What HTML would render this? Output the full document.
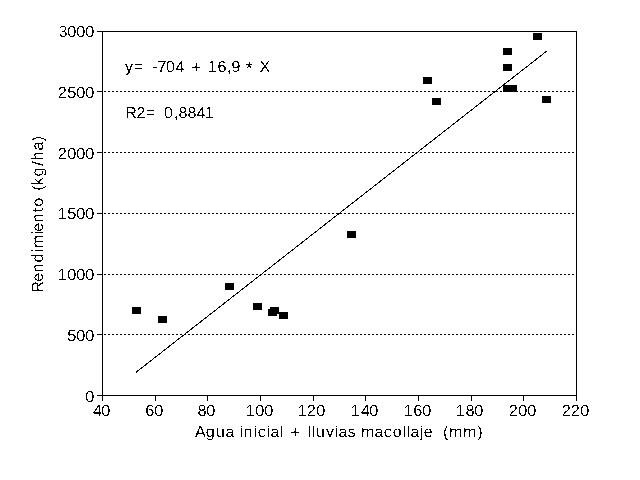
<!DOCTYPE html>
<html><head><meta charset="utf-8"><title>Rendimiento vs Agua inicial + lluvias macollaje</title>
<style>
html,body{margin:0;padding:0;background:#fff;width:640px;height:480px;overflow:hidden}
svg{display:block}
text{font-family:"Liberation Sans",Arial,sans-serif;font-size:16px;fill:#000;text-rendering:geometricPrecision}
</style></head><body>
<svg width="640" height="480" viewBox="0 0 640 480">
<rect x="0" y="0" width="640" height="480" fill="#fff"/>
<g stroke="#000" stroke-width="1" shape-rendering="crispEdges" fill="none">
<!-- dotted gridlines -->
<g stroke-dasharray="2 2">
<line x1="104" y1="91.5" x2="574" y2="91.5"/>
<line x1="104" y1="152.5" x2="574" y2="152.5"/>
<line x1="104" y1="213.5" x2="574" y2="213.5"/>
<line x1="104" y1="274.5" x2="574" y2="274.5"/>
<line x1="104" y1="334.5" x2="574" y2="334.5"/>
</g>
<!-- frame -->
<line x1="97" y1="31.5" x2="577" y2="31.5"/>
<line x1="97" y1="395.5" x2="577" y2="395.5"/>
<line x1="102.5" y1="31" x2="102.5" y2="401"/>
<line x1="576.5" y1="31" x2="576.5" y2="401"/>
<!-- y ticks -->
<line x1="97" y1="91.5" x2="102" y2="91.5"/>
<line x1="97" y1="152.5" x2="102" y2="152.5"/>
<line x1="97" y1="213.5" x2="102" y2="213.5"/>
<line x1="97" y1="274.5" x2="102" y2="274.5"/>
<line x1="97" y1="334.5" x2="102" y2="334.5"/>
<!-- x ticks -->
<line x1="155.5" y1="396" x2="155.5" y2="401"/>
<line x1="207.5" y1="396" x2="207.5" y2="401"/>
<line x1="260.5" y1="396" x2="260.5" y2="401"/>
<line x1="313.5" y1="396" x2="313.5" y2="401"/>
<line x1="365.5" y1="396" x2="365.5" y2="401"/>
<line x1="418.5" y1="396" x2="418.5" y2="401"/>
<line x1="471.5" y1="396" x2="471.5" y2="401"/>
<line x1="523.5" y1="396" x2="523.5" y2="401"/>
</g>
<!-- regression line -->
<line x1="135.9" y1="372.4" x2="546.5" y2="51.3" stroke="#000" stroke-width="1" shape-rendering="crispEdges"/>
<!-- data points 9x7 -->
<g fill="#000" shape-rendering="crispEdges">
<rect x="132" y="307" width="9" height="7"/>
<rect x="158" y="316" width="9" height="7"/>
<rect x="225" y="283" width="9" height="7"/>
<rect x="253" y="303" width="9" height="7"/>
<rect x="270" y="307" width="9" height="7"/>
<rect x="268" y="309" width="9" height="7"/>
<rect x="279" y="312" width="9" height="7"/>
<rect x="347" y="231" width="9" height="7"/>
<rect x="423" y="77" width="9" height="7"/>
<rect x="432" y="98" width="9" height="7"/>
<rect x="503" y="48" width="9" height="7"/>
<rect x="503" y="64" width="9" height="7"/>
<rect x="503" y="85" width="9" height="7"/>
<rect x="508" y="85" width="9" height="7"/>
<rect x="533" y="33" width="9" height="7"/>
<rect x="542" y="96" width="9" height="7"/>
</g>
<defs><filter id="bw" filterUnits="userSpaceOnUse" x="0" y="0" width="640" height="480" color-interpolation-filters="sRGB"><feColorMatrix type="matrix" values="0 0 0 0 0  0 0 0 0 0  0 0 0 0 0  -0.333 -0.333 -0.333 1 0"/><feComponentTransfer><feFuncA type="discrete" tableValues="0 1 1"/></feComponentTransfer></filter></defs>
<g filter="url(#bw)" stroke="#fff" stroke-width="0.1">
<text x="58.5 67.25 76.25 85.25" y="37" style="font-size:16.3px">3000</text>
<text x="57.75 67.25 76.25 85.25" y="98" style="font-size:16.3px">2500</text>
<text x="57.75 67.25 76.25 85.25" y="159" style="font-size:16.3px">2000</text>
<text x="57.75 67.25 76.25 85.25" y="219" style="font-size:16.3px">1500</text>
<text x="57.75 67.25 76.25 85.25" y="280" style="font-size:16.3px">1000</text>
<text x="67.25 76.25 85.25" y="341" style="font-size:16.3px">500</text>
<text x="85.25" y="402" style="font-size:16.3px">0</text>
<text x="93 101.25" y="416" style="font-size:16.3px">40</text>
<text x="145.25 154.25" y="416" style="font-size:16.3px">60</text>
<text x="197.5 206.25" y="416" style="font-size:16.3px">80</text>
<text x="245.75 255.25 264.25" y="416" style="font-size:16.3px">100</text>
<text x="297.75 306.75 316.25" y="416" style="font-size:16.3px">120</text>
<text x="350.75 361 369.25" y="416" style="font-size:16.3px">140</text>
<text x="403.75 413.25 422.25" y="416" style="font-size:16.3px">160</text>
<text x="455.75 465.5 474.25" y="416" style="font-size:16.3px">180</text>
<text x="508.75 518.25 527.25" y="416" style="font-size:16.3px">200</text>
<text x="561.75 570.75 580.25" y="416" style="font-size:16.3px">220</text>
<text x="195 205.75 215.75 225.5 234.4 240 243.5 254 257.75 267 270.5 280 283.55 290 299.59 308 312 315.75 326 335 338.5 347.75 355.75 361 374.5 383.75 392.75 403 407 410.5 420 423.75 432.65 437.09 443 449 463 477.25" y="437 437 437 437 437 437 437 437 437 437 437 437 437 438 437 437 437 437 437 437 437 437 437 437 437 437 437 437 437 437 437 437 437 437 437 437 437 437" xml:space="preserve">Agua inicial <tspan style="font-size:18px">+</tspan> lluvias macollaje  (mm)</text>
<text x="125 134.25 143.59 148.04 152.25 157.5 166 175.5 184.4 191 200.59 207.75 217.5 227 231.5 240.4 245.6 251.73 259.5" y="72 72 72 72 72 72 72 72 72 73 72 72 72 72 72 72 75 72 72" xml:space="preserve">y=  -704 <tspan style="font-size:18px">+</tspan> 16,9 <tspan style="font-size:19px">*</tspan> X</text>
<text x="125.25 136.5 146.25 155.59 160.04 164 174 178.5 187.5 196.5 204.75" y="118" xml:space="preserve">R2=  0,8841</text>
<text transform="translate(43 291) rotate(-90)" x="-1.5 9.25 18.75 28.5 38.75 42.75 56.75 59.25 68.75 78.75 84.25 93.15 100.5 105.5 114.5 125.25 130.75 140.75 149.75" y="0" xml:space="preserve">Rendimiento (kg/ha)</text>
</g>
</svg>
</body></html>
